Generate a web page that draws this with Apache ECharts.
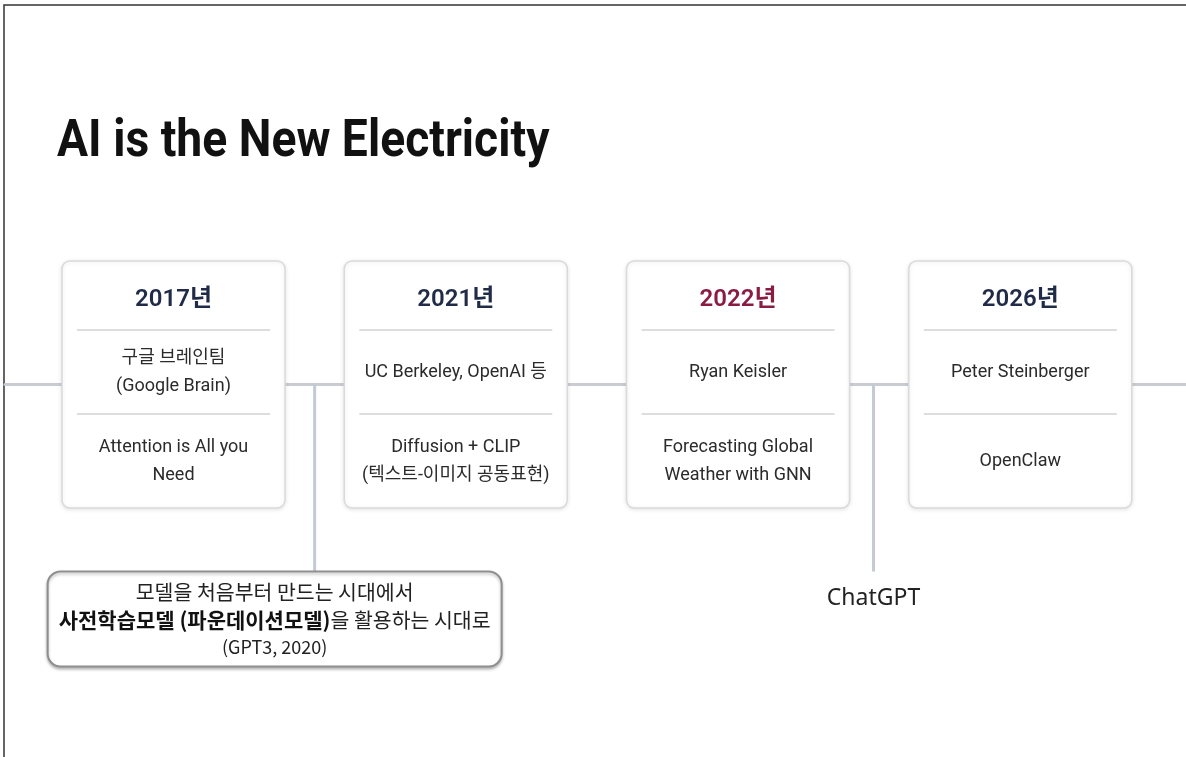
<!DOCTYPE html>
<html>
<head>
<meta charset="utf-8">
<title>AI is the New Electricity</title>
<script src="https://cdn.jsdelivr.net/npm/echarts@6/dist/echarts.min.js"></script>
<style>
  html, body { margin: 0; padding: 0; background: #fff; }
  #chart { width: 1186px; height: 757px; }
</style>
</head>
<body>
<div id="chart"></div>
<script>
// timeline data
const titleText = 'AI is the New Electricity';
const years = ['2017년', '2021년', '2022년', '2026년'];
const who = ['구글 브레인팀\n(Google Brain)', 'UC Berkeley, OpenAI 등', 'Ryan Keisler', 'Peter Steinberger'];
const works = ['Attention is All you\nNeed', 'Diffusion + CLIP\n(텍스트-이미지 공동표현)', 'Forecasting Global\nWeather with GNN', 'OpenClaw'];
const highlightYear = '2022년';
// milestones between cards (position on the card index axis)
const milestonePos = [0.5, 2.48];
const milestoneText = [
  '{k|모델을 처음부터 만드는 시대에서}\n{b|사전학습모델 (파운데이션모델)}{k|을 활용하는 시대로}\n{s|(GPT3, 2020)}',
  'ChatGPT'
];

const CJK = '"Noto Sans CJK KR", "Noto Sans", sans-serif';
const LATIN = 'Roboto, "Noto Sans CJK KR", sans-serif';

const chart = echarts.init(document.getElementById('chart'));

const option = {
  animation: false,
  backgroundColor: '#fff',
  graphic: [
    {
      type: 'polyline',
      shape: { points: [[4, 757], [4, 5], [1186, 5]] },
      style: { stroke: '#333', lineWidth: 1.5, fill: null }
    },
    {
      // title, squeezed a little to match the narrow slide font
      type: 'text',
      x: 57,
      y: 117,
      scaleX: 0.89,
      style: {
        text: titleText,
        x: 0, y: 0,
        verticalAlign: 'top',
        fontFamily: 'Roboto, sans-serif',
        fontWeight: 'bold',
        fontSize: 52,
        fill: '#111'
      }
    }
  ],
  grid: { left: 5, right: 0, top: 261, height: 247 },
  xAxis: {
    type: 'value',
    min: -0.597,
    max: 3.587,
    axisLine: { show: true, onZero: true, lineStyle: { color: '#c9cdd1', width: 3 } },
    axisTick: { show: false },
    axisLabel: { show: false },
    splitLine: { show: false }
  },
  yAxis: {
    type: 'value',
    min: -1,
    max: 1,
    show: false
  },
  series: [
    {
      // connectors hanging from the timeline
      type: 'custom',
      name: 'connectors',
      z: 1,
      clip: false,
      data: milestonePos.map((p, i) => [p, i]),
      renderItem: function (params, api) {
        const p = api.coord([api.value(0), 0]);
        const k = api.value(1);
        const children = [
          {
            type: 'line',
            shape: { x1: p[0], y1: p[1], x2: p[0], y2: p[1] + 187 },
            style: { stroke: '#c4cad3', lineWidth: 3 }
          }
        ];
        if (k === 0) {
          const bw = 454, bh = 95;
          const bx = p[0] - 267, by = p[1] + 187;
          children.push({
            type: 'rect',
            shape: { x: bx, y: by, width: bw, height: bh, r: 13 },
            style: {
              fill: '#fff', stroke: '#8f8f8f', lineWidth: 2,
              shadowBlur: 3, shadowOffsetY: 2, shadowColor: 'rgba(0,0,0,0.25)'
            }
          });
          children.push({
            type: 'text',
            style: {
              text: milestoneText[k],
              x: bx + bw / 2,
              y: by + bh / 2 + 1,
              align: 'center',
              verticalAlign: 'middle',
              fontFamily: CJK,
              fontSize: 18,
              lineHeight: 27.5,
              fill: '#222',
              rich: {
                k: { fontFamily: CJK, fontSize: 20.5, fill: '#222', lineHeight: 27.5 },
                b: { fontFamily: CJK, fontSize: 21, fontWeight: 'bold', fill: '#111', lineHeight: 27.5 },
                s: { fontFamily: CJK, fontSize: 18, fill: '#222', lineHeight: 27.5 }
              }
            }
          });
        } else {
          children.push({
            type: 'text',
            style: {
              text: milestoneText[k],
              x: p[0],
              y: p[1] + 214,
              align: 'center',
              verticalAlign: 'middle',
              fontFamily: '"Noto Sans", sans-serif',
              fontSize: 23,
              fill: '#222'
            }
          });
        }
        return { type: 'group', children: children };
      }
    },
    {
      // year cards
      type: 'custom',
      name: 'cards',
      z: 3,
      clip: false,
      data: years.map((y, i) => [i]),
      renderItem: function (params, api) {
        const i = api.value(0);
        const c = api.coord([i, 1]);
        const bottom = api.coord([i, -1])[1];
        const w = api.size([0.79, 0])[0];
        const cx = c[0], top = c[1];
        const x = cx - w / 2, h = bottom - top;
        return {
          type: 'group',
          children: [
            {
              type: 'rect',
              shape: { x: x, y: top, width: w, height: h, r: 8 },
              style: {
                fill: '#fff', stroke: '#dadada', lineWidth: 1.5,
                shadowBlur: 4, shadowOffsetY: 1, shadowColor: 'rgba(0,0,0,0.10)'
              }
            },
            {
              type: 'line',
              shape: { x1: x + 15, y1: top + 69, x2: x + w - 15, y2: top + 69 },
              style: { stroke: '#d2d2d2', lineWidth: 1.5 }
            },
            {
              type: 'line',
              shape: { x1: x + 15, y1: top + 153, x2: x + w - 15, y2: top + 153 },
              style: { stroke: '#d2d2d2', lineWidth: 1.5 }
            },
            {
              type: 'text',
              style: {
                text: years[i],
                x: cx, y: top + 39,
                align: 'center', verticalAlign: 'middle',
                fontFamily: LATIN, fontSize: 24, fontWeight: 600,
                fill: years[i] === highlightYear ? '#8a1c43' : '#1f2b47'
              }
            },
            {
              type: 'text',
              style: {
                text: who[i],
                x: cx, y: top + 111,
                align: 'center', verticalAlign: 'middle',
                fontFamily: LATIN, fontSize: 18, lineHeight: 28,
                fill: '#2b2b2b'
              }
            },
            {
              type: 'text',
              style: {
                text: works[i],
                x: cx, y: top + 200,
                align: 'center', verticalAlign: 'middle',
                fontFamily: LATIN, fontSize: 18, lineHeight: 28,
                fill: '#2b2b2b'
              }
            }
          ]
        };
      }
    }
  ]
};

chart.setOption(option);
</script>
</body>
</html>
